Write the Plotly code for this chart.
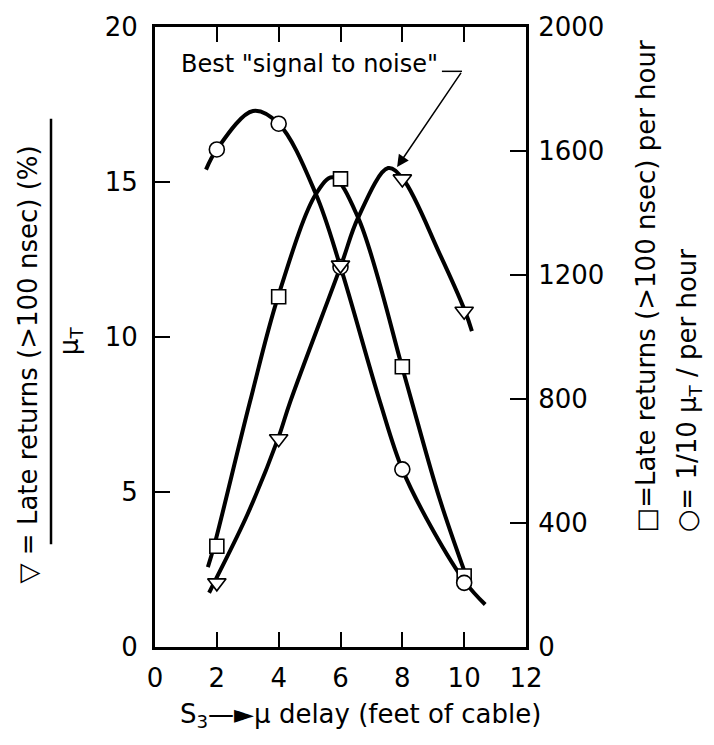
import plotly.graph_objects as go

FONT = "DejaVu Sans"

# Measured points at each cable delay (feet)
delay_ft = [2, 4, 6, 8, 10]
ratio_pct = [2.07, 6.72, 12.32, 15.1, 10.83]        # ▽  late returns / μ_T  (%)
late_per_hr = [325, 1130, 1510, 904, 229]           # □  late returns (>100 nsec) per hour
mu_tenth_per_hr = [1605, 1688, 1226, 573, 207]      # ○  μ_T / 10 per hour

# Hand-drawn guide curves through each series
ratio_fit_x = [1.75, 1.91, 3.0, 3.98, 4.37, 6.02, 6.57, 7.54, 8.02, 9.2, 10.03, 10.25]
ratio_fit_y = [1.75, 2.07, 4.3, 6.72, 7.9, 12.32, 13.85, 15.45, 15.1, 12.7, 10.83, 10.19]

late_fit_x = [1.71, 1.91, 3.07, 3.98, 5.21, 5.75, 6.57, 7.99, 8.31, 9.2, 10.15]
late_fit_y = [258, 325, 790, 1130, 1462, 1515, 1385, 904, 790, 480, 205]

mu_fit_x = [1.65, 2.0, 3.17, 4.0, 5.2, 6.0, 7.28, 8.0, 9.0, 10.05, 10.68]
mu_fit_y = [1540, 1605, 1729, 1688, 1462, 1226, 790, 573, 375, 207, 137]

x_ticks = [0, 2, 4, 6, 8, 10, 12]
left_ticks = [0, 5, 10, 15, 20]
right_ticks = [0, 400, 800, 1200, 1600, 2000]

fig = go.Figure()

curve = dict(mode="lines", line=dict(color="black", width=4, shape="spline", smoothing=1.0),
             showlegend=False, hoverinfo="skip")

fig.add_trace(go.Scatter(x=ratio_fit_x, y=ratio_fit_y, yaxis="y", **curve))
fig.add_trace(go.Scatter(x=late_fit_x, y=late_fit_y, yaxis="y2", **curve))
fig.add_trace(go.Scatter(x=mu_fit_x, y=mu_fit_y, yaxis="y2", **curve))

fig.add_trace(go.Scatter(
    x=delay_ft, y=late_per_hr, yaxis="y2", mode="markers", showlegend=False,
    marker=dict(symbol="square", size=14, color="white", line=dict(color="black", width=1.6))))
fig.add_trace(go.Scatter(
    x=delay_ft, y=mu_tenth_per_hr, yaxis="y2", mode="markers", showlegend=False,
    marker=dict(symbol="circle", size=15, color="white", line=dict(color="black", width=1.6))))
fig.add_trace(go.Scatter(
    x=delay_ft, y=ratio_pct, yaxis="y3", mode="markers", showlegend=False,
    marker=dict(symbol="triangle-down", size=16, color="white", line=dict(color="black", width=1.6))))

tickfont = dict(family=FONT, size=26, color="black")

fig.update_layout(
    width=714, height=745,
    margin=dict(l=155, r=188, t=19, b=98),
    paper_bgcolor="white", plot_bgcolor="white",
    font=dict(family=FONT, color="black"),
    xaxis=dict(range=[0, 12], tickvals=x_ticks, ticks="inside", ticklen=15, tickwidth=2,
               tickcolor="black", showline=True, linewidth=3, linecolor="black",
               mirror="ticks", showgrid=False, zeroline=False, tickfont=tickfont,
               ticklabelstandoff=6),
    yaxis=dict(range=[0, 20], tickvals=left_ticks, ticks="inside", ticklen=15, tickwidth=2,
               tickcolor="black", showline=True, linewidth=3, linecolor="black",
               mirror=True, showgrid=False, zeroline=False, tickfont=tickfont,
               ticklabelstandoff=9),
    yaxis2=dict(range=[0, 2000], tickvals=right_ticks, overlaying="y", side="right",
                ticks="inside", ticklen=16, tickwidth=2, tickcolor="black",
                showline=True, linewidth=3, linecolor="black", showgrid=False,
                zeroline=False, tickfont=tickfont, ticklabelstandoff=4),
    yaxis3=dict(range=[0, 20], overlaying="y", visible=False),
)

label_font = dict(family=FONT, size=26, color="black")

annotations = [
    # x-axis title
    dict(text="S<sub>3</sub>—►μ delay (feet of cable)", xref="paper", yref="paper",
         x=0.553, y=-0.111, xanchor="center", yanchor="middle", showarrow=False,
         font=label_font),
    # left axis title (fraction)
    dict(text="▽ = Late returns (>100 nsec) (%)", xref="paper", yref="paper",
         x=-0.342, y=0.456, xanchor="center", yanchor="middle", textangle=-90,
         showarrow=False, font=label_font),
    dict(text="μ<sub>T</sub>", xref="paper", yref="paper",
         x=-0.228, y=0.494, xanchor="center", yanchor="middle", textangle=-90,
         showarrow=False, font=label_font),
    # right axis titles
    dict(text="□=Late returns (>100 nsec) per hour", xref="paper", yref="paper",
         x=1.326, y=0.1815, xanchor="center", yanchor="bottom", textangle=-90,
         showarrow=False, font=label_font),
    dict(text="○= 1/10 μ<sub>T</sub> / per hour", xref="paper", yref="paper",
         x=1.439, y=0.1815, xanchor="center", yanchor="bottom", textangle=-90,
         showarrow=False, font=label_font),
    # callout
    dict(text='Best "signal to noise"', xref="x", yref="y", x=9.22, y=18.8,
         xanchor="right", yanchor="middle", showarrow=False,
         font=dict(family=FONT, size=24, color="black")),
    dict(text="", xref="x", yref="y", x=7.83, y=15.48, axref="x", ayref="y",
         ax=9.93, ay=18.57, showarrow=True, arrowhead=2, arrowsize=1.6,
         arrowwidth=1.5, arrowcolor="black"),
]
fig.update_layout(annotations=annotations)

fig.add_shape(type="line", xref="x", yref="y", x0=9.28, y0=18.57, x1=9.93, y1=18.57,
              line=dict(color="black", width=1.5))
# fraction bar of the left title
fig.add_shape(type="line", xref="paper", yref="paper", x0=-0.2803, y0=0.1656,
              x1=-0.2803, y1=0.8519, line=dict(color="black", width=2.5))

fig.write_html("out.html")
